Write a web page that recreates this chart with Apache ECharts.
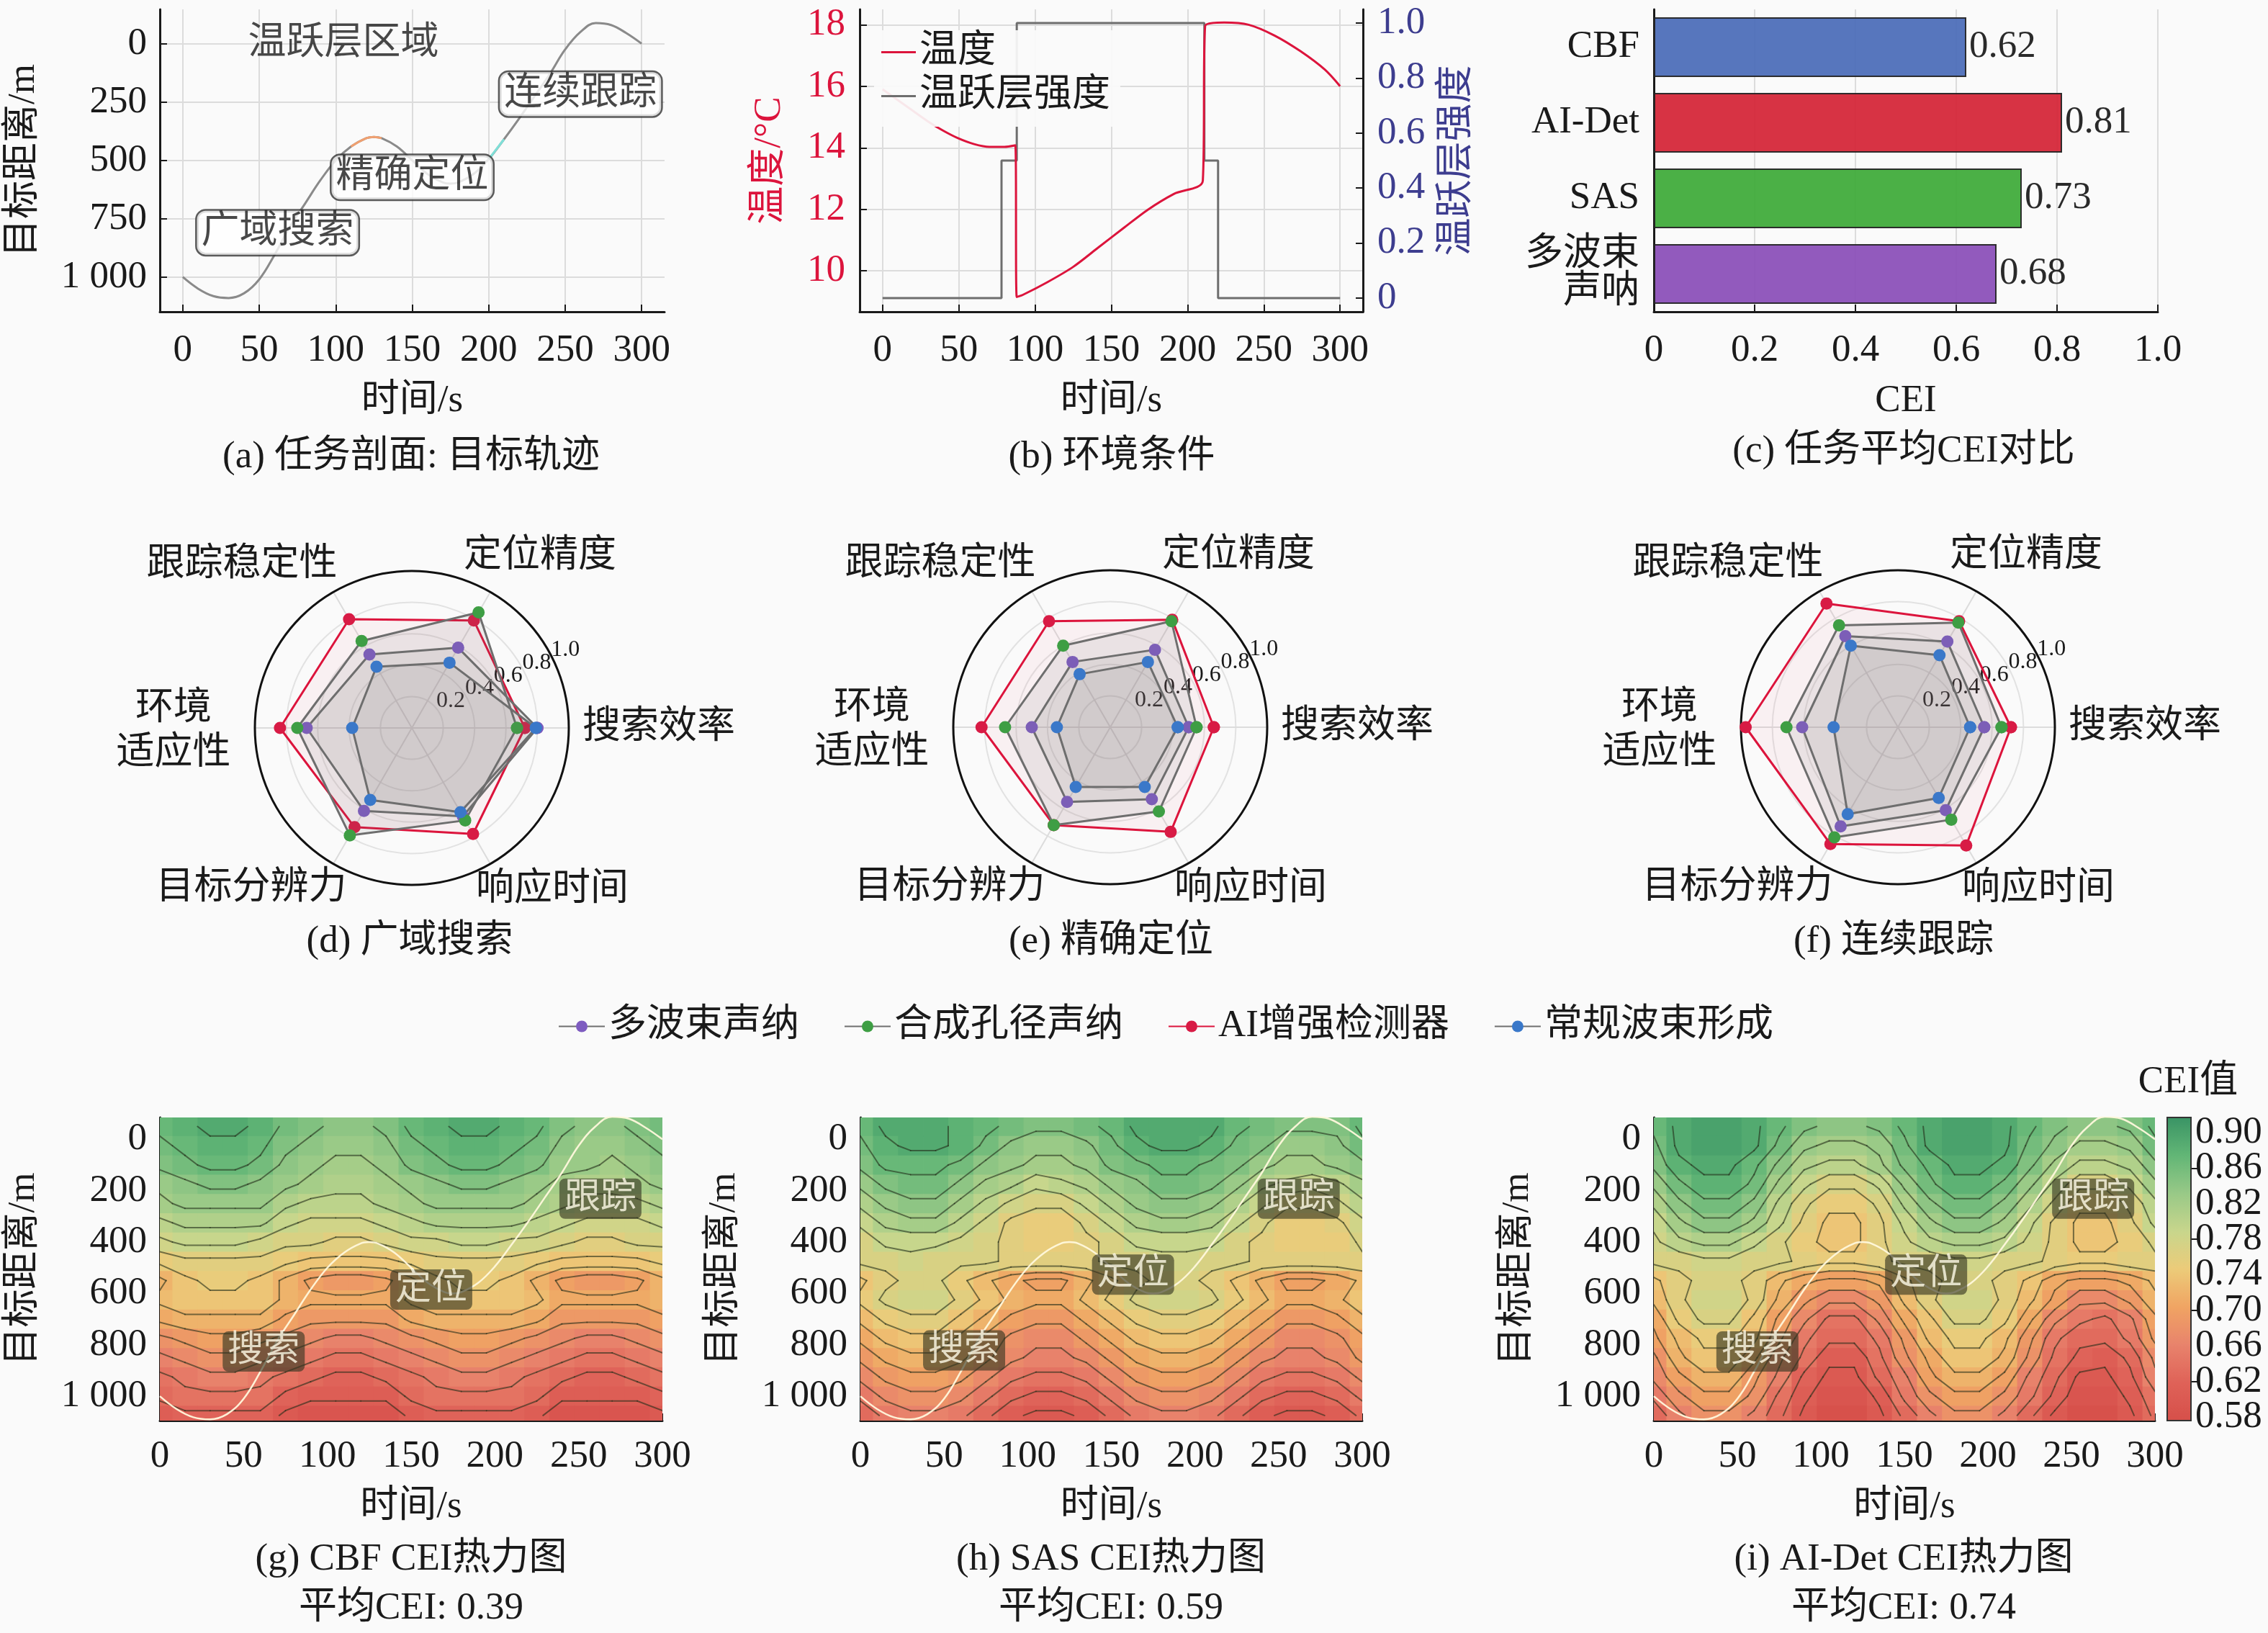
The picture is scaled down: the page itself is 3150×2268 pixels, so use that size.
<!DOCTYPE html>
<html>
<head>
<meta charset="utf-8">
<title>CEI 任务剖面</title>
<script src="https://cdn.jsdelivr.net/npm/echarts@6/dist/echarts.min.js"></script>
<style>
html, body { margin: 0; padding: 0; background: #fafafa; }
#main { width: 3150px; height: 2268px; }
</style>
</head>
<body>
<div id="main"></div>
<script>
// ---------------- data ----------------
// (a) target trajectory
const trajTime = [0, 10, 20, 30, 40, 50, 60, 70, 80, 90, 100, 110, 120, 125, 130, 140, 150, 160, 170, 175, 180, 190, 200, 210, 220, 230, 240, 250, 260, 270, 280, 290, 300];
const trajDepth = [1000, 1050, 1082, 1090, 1070, 1010, 905, 785, 685, 585, 500, 441, 405, 400, 405, 441, 500, 559, 595, 600, 595, 559, 495, 410, 320, 225, 130, 25, -50, -88, -80, -45, 0];
const phaseLabelsA = [[62, 810, '广域搜索'], [150, 573, '精确定位'], [260, 216, '连续跟踪']];

// (b) environment
const tempTime = [0, 10, 20, 30, 40, 50, 60, 70, 80, 87, 88, 92, 108, 125, 141, 158, 174, 191, 210, 211.5, 224, 240, 257, 274, 290, 300];
const tempValue = [15.9, 15.55, 15.2, 14.85, 14.55, 14.3, 14.12, 14.03, 14.03, 14.08, 9.15, 9.22, 9.63, 10.13, 10.74, 11.39, 11.99, 12.5, 12.93, 17.95, 18.07, 18.0, 17.65, 17.14, 16.54, 16.0];
const layerTime = [0, 78, 78, 88, 88, 211, 211, 220, 220, 300];
const layerValue = [0, 0, 0.5, 0.5, 1, 1, 0.5, 0.5, 0, 0];

// (c) mean CEI
const methodNames = ['CBF', 'AI-Det', 'SAS', '多波束\n声呐'];
const methodCEI = [0.62, 0.81, 0.73, 0.68];
const methodColors = ['#4a6cb8', '#d42336', '#3daa38', '#8a4db8'];

// (d)-(f) radar scores, axis order as below
const radarAxes = ['搜索效率', '定位精度', '跟踪稳定性', '环境\n适应性', '目标分辨力', '响应时间'];
const sonarNames = ['多波束声纳', '合成孔径声纳', 'AI增强检测器', '常规波束形成'];
const wideSearchScores = [
    [0.80, 0.59, 0.54, 0.67, 0.61, 0.65],
    [0.67, 0.85, 0.64, 0.73, 0.79, 0.68],
    [0.72, 0.79, 0.80, 0.84, 0.73, 0.78],
    [0.79, 0.48, 0.45, 0.38, 0.53, 0.62]
];
const preciseLocateScores = [
    [0.50, 0.57, 0.48, 0.50, 0.55, 0.53],
    [0.55, 0.78, 0.60, 0.67, 0.72, 0.62],
    [0.66, 0.79, 0.78, 0.82, 0.72, 0.77],
    [0.43, 0.48, 0.39, 0.34, 0.44, 0.44]
];
const trackingScores = [
    [0.55, 0.63, 0.67, 0.61, 0.73, 0.61],
    [0.66, 0.77, 0.75, 0.71, 0.81, 0.68],
    [0.72, 0.78, 0.91, 0.97, 0.86, 0.87],
    [0.46, 0.53, 0.60, 0.41, 0.64, 0.52]
];

// (g)-(i) CEI fields, in hundredths; rows = depth, columns = time
const gridTime = [0, 15, 30, 45, 60, 75, 90, 105, 120, 135, 150, 165, 180, 195, 210, 225, 240, 255, 270, 285, 300];
const gridDepth = [-50, 25, 100, 175, 250, 325, 400, 475, 550, 625, 700, 775, 850, 925, 1000, 1075];
const cbfGrid = [
    [87, 88, 89, 89, 88, 86, 85, 84, 84, 85, 87, 88, 89, 89, 88, 87, 85, 84, 84, 85, 86],
    [86, 87, 88, 88, 87, 85, 84, 83, 83, 84, 86, 87, 88, 88, 87, 86, 84, 83, 83, 84, 85],
    [85, 86, 87, 87, 86, 84, 83, 82, 82, 83, 85, 86, 87, 87, 86, 85, 83, 83, 82, 83, 84],
    [83, 84, 85, 85, 84, 83, 82, 81, 81, 82, 83, 84, 85, 85, 84, 83, 82, 81, 81, 82, 83],
    [82, 83, 83, 83, 83, 81, 80, 80, 80, 81, 82, 83, 83, 83, 83, 82, 81, 80, 80, 80, 81],
    [80, 81, 81, 81, 81, 79, 78, 78, 78, 79, 80, 81, 81, 81, 81, 80, 79, 78, 78, 78, 79],
    [78, 79, 79, 79, 78, 77, 77, 76, 76, 77, 78, 78, 79, 79, 78, 78, 77, 76, 76, 77, 77],
    [75, 76, 76, 76, 76, 75, 74, 74, 74, 74, 75, 76, 76, 76, 76, 75, 74, 74, 74, 74, 75],
    [72, 74, 75, 75, 74, 72, 70, 69, 69, 70, 72, 74, 75, 75, 74, 72, 70, 69, 69, 70, 72],
    [73, 74, 74, 74, 74, 72, 71, 71, 71, 71, 73, 74, 74, 74, 74, 73, 71, 71, 71, 71, 72],
    [71, 72, 72, 72, 72, 70, 69, 69, 69, 69, 71, 72, 72, 72, 72, 71, 69, 69, 69, 69, 70],
    [68, 69, 70, 70, 69, 68, 67, 66, 66, 67, 68, 69, 70, 70, 69, 68, 67, 66, 66, 67, 68],
    [66, 67, 68, 68, 67, 66, 65, 64, 64, 65, 66, 67, 68, 68, 67, 66, 65, 64, 64, 65, 66],
    [64, 65, 66, 66, 65, 64, 63, 62, 62, 63, 64, 65, 66, 66, 65, 64, 63, 62, 62, 63, 64],
    [63, 64, 64, 64, 64, 62, 61, 61, 61, 61, 63, 64, 64, 64, 64, 63, 61, 61, 61, 61, 62],
    [61, 62, 62, 62, 62, 60, 59, 59, 59, 59, 61, 62, 62, 62, 62, 61, 59, 59, 59, 59, 60]
];
const sasGrid = [
    [87, 89, 89, 89, 88, 87, 86, 85, 85, 86, 87, 89, 89, 89, 89, 87, 86, 85, 85, 85, 87],
    [86, 88, 89, 89, 88, 86, 84, 83, 83, 84, 86, 88, 89, 89, 88, 86, 85, 83, 83, 84, 86],
    [85, 87, 87, 87, 86, 84, 83, 82, 82, 83, 85, 86, 87, 87, 86, 85, 83, 82, 82, 83, 84],
    [83, 85, 86, 86, 84, 82, 81, 79, 80, 81, 83, 84, 86, 86, 85, 83, 81, 80, 79, 80, 82],
    [81, 83, 84, 84, 82, 80, 78, 77, 77, 79, 81, 83, 84, 84, 83, 81, 79, 77, 77, 78, 80],
    [79, 81, 82, 82, 80, 78, 76, 75, 75, 77, 79, 81, 82, 82, 81, 79, 77, 75, 75, 76, 78],
    [77, 79, 79, 79, 78, 77, 76, 75, 75, 76, 77, 79, 79, 79, 79, 77, 76, 75, 75, 75, 77],
    [77, 77, 78, 77, 77, 77, 76, 76, 76, 76, 77, 77, 78, 78, 77, 77, 76, 76, 76, 76, 76],
    [74, 76, 77, 77, 75, 73, 71, 70, 70, 72, 74, 76, 77, 77, 76, 74, 72, 70, 70, 71, 73],
    [75, 77, 78, 78, 76, 74, 72, 71, 71, 73, 75, 77, 78, 78, 77, 75, 73, 71, 71, 72, 74],
    [73, 75, 76, 76, 74, 72, 70, 69, 69, 71, 73, 75, 76, 76, 75, 73, 71, 69, 69, 70, 72],
    [71, 73, 74, 74, 72, 70, 68, 67, 67, 69, 71, 73, 74, 74, 73, 71, 69, 67, 67, 68, 70],
    [69, 71, 72, 72, 71, 69, 67, 66, 66, 67, 69, 71, 72, 72, 71, 69, 67, 66, 66, 67, 69],
    [67, 69, 70, 70, 69, 67, 65, 64, 64, 65, 67, 69, 70, 70, 69, 67, 65, 64, 64, 65, 67],
    [65, 67, 68, 68, 67, 65, 63, 62, 62, 63, 65, 67, 68, 68, 67, 65, 63, 62, 62, 63, 65],
    [63, 65, 66, 66, 65, 63, 61, 60, 60, 61, 63, 65, 66, 66, 65, 63, 61, 60, 60, 61, 63]
];
const aiGrid = [
    [87, 89, 90, 90, 89, 87, 85, 84, 84, 85, 87, 89, 90, 90, 89, 87, 85, 84, 84, 85, 87],
    [86, 89, 90, 90, 89, 86, 83, 82, 82, 83, 86, 89, 90, 90, 89, 86, 84, 82, 82, 83, 86],
    [85, 88, 89, 89, 87, 84, 81, 80, 80, 82, 85, 87, 89, 89, 88, 85, 82, 80, 80, 81, 84],
    [83, 86, 88, 88, 86, 82, 79, 77, 77, 79, 83, 86, 88, 88, 86, 83, 80, 77, 77, 79, 82],
    [81, 84, 86, 86, 84, 80, 77, 75, 75, 77, 81, 84, 86, 86, 84, 81, 78, 75, 75, 77, 80],
    [79, 82, 84, 84, 82, 79, 76, 74, 74, 76, 79, 82, 84, 84, 82, 79, 76, 74, 74, 76, 79],
    [78, 80, 81, 81, 79, 77, 75, 74, 74, 76, 78, 80, 81, 81, 80, 78, 76, 74, 74, 75, 77],
    [77, 77, 78, 78, 77, 77, 76, 75, 75, 76, 77, 77, 78, 78, 77, 77, 76, 75, 75, 76, 76],
    [74, 76, 77, 77, 76, 73, 71, 70, 70, 71, 74, 76, 77, 77, 76, 74, 71, 70, 70, 71, 73],
    [73, 76, 78, 78, 76, 72, 69, 67, 67, 69, 73, 76, 78, 78, 76, 73, 70, 67, 67, 69, 72],
    [71, 75, 77, 77, 74, 70, 67, 64, 64, 67, 71, 74, 77, 77, 75, 71, 67, 65, 64, 66, 70],
    [70, 73, 75, 75, 73, 69, 65, 63, 63, 65, 69, 73, 75, 75, 73, 69, 65, 63, 63, 65, 69],
    [68, 72, 74, 74, 71, 67, 64, 61, 61, 64, 68, 71, 74, 74, 72, 68, 64, 62, 61, 63, 67],
    [67, 70, 72, 72, 69, 66, 62, 60, 60, 63, 66, 70, 72, 72, 70, 66, 63, 60, 60, 62, 66],
    [65, 68, 70, 70, 68, 64, 61, 59, 59, 61, 65, 68, 70, 70, 68, 65, 62, 59, 59, 61, 64],
    [63, 66, 68, 68, 66, 63, 60, 58, 58, 60, 63, 66, 68, 68, 66, 63, 60, 58, 58, 60, 63]
];
const phaseLabelsG = [[62, 826, '搜索'], [162, 585, '定位'], [263, 231, '跟踪']];
const phaseLabelsH = [[62, 822, '搜索'], [163, 527, '定位'], [262, 231, '跟踪']];
const phaseLabelsI = [[62, 826, '搜索'], [163, 527, '定位'], [263, 231, '跟踪']];
const meanCEI = ['0.39', '0.59', '0.74'];
const thermoclineBand = [410, 650];
const contourLevels = [0.605, 0.625, 0.645, 0.665, 0.685, 0.705, 0.725, 0.745, 0.765, 0.785, 0.805, 0.825, 0.845, 0.865, 0.885];
const ceiTicksA = [0.58, 0.66, 0.74, 0.82, 0.90];
const ceiTicksB = [0.62, 0.70, 0.78, 0.86];
const ceiRange = [0.576, 0.917];
const ceiColors = ['#d64f4a', '#df6258', '#e8836c', '#f0a463', '#eccb79', '#c8d68c', '#98c987', '#62b676', '#3a9465'];

// ---------------- styling ----------------
const FONT = "'Liberation Serif', 'Noto Sans CJK SC', serif";
const FS = 53;
const INK = '#1a1a1a';
const GRIDC = '#dcdcdc';
const TEMPC = '#dc143c';
const LAYERC = '#3d3d8f';
const markerColors = ['#7e5cc0', '#3e9e44', '#d81b45', '#3a78c9'];

const merge = echarts.util.merge;
const depthFmt = v => (v === 1000 ? '1 000' : String(v));

const valueAxis = function (extra) {
    const base = {
        type: 'value',
        axisLine: {show: true, onZero: false, lineStyle: {color: INK, width: 3}},
        axisTick: {show: true, inside: true, length: 10, lineStyle: {color: INK, width: 2}},
        axisLabel: {color: INK, fontSize: FS, fontFamily: FONT, margin: 18},
        splitLine: {show: false, lineStyle: {color: GRIDC, width: 2}},
        nameLocation: 'middle',
        nameTextStyle: {color: INK, fontSize: FS, fontFamily: FONT}
    };
    return merge(base, extra, true);
};

const toPairs = (xs, ys) => xs.map((x, i) => [x, ys[i]]);

// marching squares on a grid of node values -> list of segments in data coords
const contourSegments = function (grid, level) {
    const segs = [];
    for (let i = 0; i < grid.length - 1; i++) {
        for (let j = 0; j < grid[i].length - 1; j++) {
            const a = grid[i][j], b = grid[i][j + 1], c = grid[i + 1][j + 1], d = grid[i + 1][j];
            const x0 = gridTime[j], x1 = gridTime[j + 1], y0 = gridDepth[i], y1 = gridDepth[i + 1];
            const cut = (v1, v2) => (level - v1) / (v2 - v1);
            const e = [
                (a - level) * (b - level) < 0 ? [x0 + cut(a, b) * (x1 - x0), y0] : null,
                (b - level) * (c - level) < 0 ? [x1, y0 + cut(b, c) * (y1 - y0)] : null,
                (d - level) * (c - level) < 0 ? [x0 + cut(d, c) * (x1 - x0), y1] : null,
                (a - level) * (d - level) < 0 ? [x0, y0 + cut(a, d) * (y1 - y0)] : null
            ];
            const hits = e.filter(Boolean);
            if (hits.length === 2) {
                segs.push(hits);
            } else if (hits.length === 4) {
                const centre = (a + b + c + d) / 4;
                if ((centre > level) === (a > level)) {
                    segs.push([e[0], e[1]], [e[2], e[3]]);
                } else {
                    segs.push([e[3], e[0]], [e[1], e[2]]);
                }
            }
        }
    }
    return segs;
};

// ---------------- layout ----------------
const grids = [
    {left: 222, top: 13, width: 701, height: 420},     // a
    {left: 1194, top: 13, width: 699, height: 420},    // b
    {left: 2297, top: 13, width: 700, height: 420},    // c
    {left: 222, top: 1552, width: 698, height: 421},   // g
    {left: 1195, top: 1552, width: 697, height: 421},  // h
    {left: 2297, top: 1552, width: 696, height: 421},  // i
    {left: 3010, top: 1552, width: 33, height: 421, show: true, borderColor: '#333', borderWidth: 2, backgroundColor: 'transparent', z: 5} // colour bar
];
const radarCentres = [[572, 1011], [1542, 1010], [2636, 1010]];
const radarRadius = 218;
const spokeStep = 360 / radarAxes.length;
// where the spoke names sit, relative to each web centre
const radarNameOffsets = [[343, 0], [178, -238], [-236, -226], [-331, 5], [-223, 223], [195, 225]];

const timeTicks = [0, 50, 100, 150, 200, 250, 300];
const timeAxisWide = {
    min: -15, max: 315,
    axisLabel: {customValues: timeTicks, margin: 28},
    axisTick: {customValues: timeTicks},
    splitLine: {show: true},
    name: '时间/s', nameGap: 98
};

const xAxes = [
    valueAxis(merge({gridIndex: 0}, timeAxisWide)),
    valueAxis(merge({gridIndex: 1}, timeAxisWide)),
    valueAxis({
        gridIndex: 2, min: 0, max: 1, interval: 0.2,
        axisLabel: {margin: 28, formatter: v => (v === 0 ? '0' : v.toFixed(1))},
        splitLine: {show: true},
        name: 'CEI', nameGap: 98
    })
];
[3, 4, 5].forEach(function (g) {
    xAxes.push(valueAxis({
        gridIndex: g, min: 0, max: 300, interval: 50,
        axisLabel: {margin: 24},
        name: '时间/s', nameGap: 94
    }));
});
xAxes.push({type: 'value', gridIndex: 6, min: 0, max: 1, show: false});

const depthTicksA = [0, 250, 500, 750, 1000];
const depthTicksH = [0, 200, 400, 600, 800, 1000];
const yAxes = [
    valueAxis({
        gridIndex: 0, inverse: true, min: -147, max: 1149,
        axisLabel: {customValues: depthTicksA, formatter: depthFmt},
        axisTick: {customValues: depthTicksA},
        splitLine: {show: true},
        name: '目标距离/m', nameGap: 162
    }),
    valueAxis({
        gridIndex: 1, min: 8.67, max: 18.5,
        axisLabel: {customValues: [10, 12, 14, 16, 18], color: TEMPC, margin: 20},
        axisTick: {customValues: [10, 12, 14, 16, 18]},
        splitLine: {show: true},
        name: '温度/°C', nameGap: 98, nameTextStyle: {color: TEMPC}
    }),
    valueAxis({
        gridIndex: 1, position: 'right', min: -0.05, max: 1.05,
        axisLabel: {customValues: [0, 0.2, 0.4, 0.6, 0.8, 1], color: LAYERC, margin: 20,
            formatter: v => (v === 0 ? '0' : v.toFixed(1))},
        axisTick: {customValues: [0, 0.2, 0.4, 0.6, 0.8, 1]},
        name: '温跃层强度', nameGap: 105, nameTextStyle: {color: LAYERC}
    }),
    {
        type: 'category', gridIndex: 2, data: methodNames, inverse: true,
        axisLine: {show: true, lineStyle: {color: INK, width: 3}},
        axisTick: {show: false},
        axisLabel: {color: INK, fontSize: FS, fontFamily: FONT, margin: 20, lineHeight: 52}
    }
];
[3, 4, 5].forEach(function (g) {
    yAxes.push(valueAxis({
        gridIndex: g, inverse: true, min: -85, max: 1095,
        axisLabel: {customValues: depthTicksH, formatter: depthFmt},
        axisTick: {customValues: depthTicksH},
        name: '目标距离/m', nameGap: 162
    }));
});
// colour bar ticks: split over two axes so neighbouring labels are never dropped
[ceiTicksA, ceiTicksB].forEach(function (ticks, n) {
    yAxes.push({
        type: 'value', gridIndex: 6, position: 'right', offset: 0, min: ceiRange[0], max: ceiRange[1],
        axisLine: {show: false},
        axisTick: {show: true, inside: false, length: 9, customValues: ticks, lineStyle: {color: INK, width: 2}},
        axisLabel: {show: true, customValues: ticks, formatter: v => v.toFixed(2), color: INK,
            fontSize: FS, fontFamily: FONT, margin: 6, showMinLabel: true, showMaxLabel: true},
        splitLine: {show: false},
        name: n === 0 ? 'CEI值' : '', nameLocation: 'end', nameGap: 22,
        nameTextStyle: {color: INK, fontSize: FS, fontFamily: FONT, padding: [0, 0, 0, 58]}
    });
});

// two polar systems per radar: one for the web, one only carrying the radial tick labels
const polars = [], angleAxes = [], radiusAxes = [];
radarCentres.forEach(function (c, k) {
    polars.push({center: c, radius: radarRadius}, {center: c, radius: radarRadius * 1.18});
    angleAxes.push({
        polarIndex: 2 * k, type: 'value', min: 0, max: 360, interval: spokeStep, startAngle: 0, clockwise: false,
        axisLine: {show: true, lineStyle: {color: '#111', width: 3}},
        axisTick: {show: false},
        axisLabel: {show: false},
        splitLine: {show: true, lineStyle: {color: GRIDC, width: 2}}
    }, {
        polarIndex: 2 * k + 1, type: 'value', min: 0, max: 360, startAngle: 24, show: false
    });
    radiusAxes.push({
        polarIndex: 2 * k, min: 0, max: 1, interval: 0.2,
        axisLine: {show: false}, axisTick: {show: false}, axisLabel: {show: false},
        splitLine: {show: true, lineStyle: {color: '#e2e2e2', width: 2}}
    }, {
        polarIndex: 2 * k + 1, min: -0.18, max: 1, axisLine: {show: false}, axisTick: {show: false}, splitLine: {show: false},
        axisLabel: {show: true, customValues: [0.2, 0.4, 0.6, 0.8, 1.0], color: INK, fontSize: 32, fontFamily: FONT, margin: 4,
            formatter: v => v.toFixed(1)}
    });
});

// ---------------- series ----------------
const series = [];
const hiddenDot = {color: 'rgba(0,0,0,0)'};

// (a)
series.push({
    type: 'line', xAxisIndex: 0, yAxisIndex: 0, data: toPairs(trajTime, trajDepth),
    smooth: 0.4, symbol: 'none', lineStyle: {color: '#8a8a8a', width: 3}, z: 3
});
series.push({
    type: 'line', xAxisIndex: 0, yAxisIndex: 0, smooth: 0.4, symbol: 'none',
    data: toPairs(trajTime, trajDepth).filter(p => p[0] >= 110 && p[0] <= 130),
    lineStyle: {color: '#f0a070', width: 3}, z: 4
});
series.push({
    type: 'line', xAxisIndex: 0, yAxisIndex: 0, symbol: 'none',
    data: toPairs(trajTime, trajDepth).filter(p => p[0] >= 200 && p[0] <= 210),
    lineStyle: {color: '#7fe0d8', width: 3}, z: 4
});
series.push({
    type: 'scatter', xAxisIndex: 0, yAxisIndex: 0, symbolSize: 2, itemStyle: hiddenDot,
    data: [[105, 0, '温跃层区域']], z: 5,
    label: {show: true, position: 'inside', formatter: p => p.data[2], color: INK, fontSize: FS, fontFamily: FONT}
});
series.push({
    type: 'scatter', xAxisIndex: 0, yAxisIndex: 0, symbolSize: 2, itemStyle: hiddenDot,
    data: phaseLabelsA, z: 6,
    label: {
        show: true, position: 'inside', formatter: p => p.data[2], color: INK, fontSize: FS, fontFamily: FONT,
        backgroundColor: '#ffffff', borderColor: '#333', borderWidth: 2.5, borderRadius: 12, padding: [6, 6, 2, 6]
    }
});

// (b)
series.push({
    name: '温度', type: 'line', xAxisIndex: 1, yAxisIndex: 1, data: toPairs(tempTime, tempValue),
    smooth: 0.3, symbol: 'none', lineStyle: {color: TEMPC, width: 3}, itemStyle: {color: TEMPC}, z: 3
});
series.push({
    name: '温跃层强度', type: 'line', xAxisIndex: 1, yAxisIndex: 2, data: toPairs(layerTime, layerValue),
    symbol: 'none', lineStyle: {color: '#6e6e6e', width: 3}, itemStyle: {color: '#6e6e6e'}, z: 2
});

// (c)
series.push({
    type: 'bar', xAxisIndex: 2, yAxisIndex: 3, barWidth: 83,
    data: methodCEI.map((v, i) => ({value: v, itemStyle: {color: methodColors[i]}})),
    itemStyle: {borderColor: '#222', borderWidth: 2, opacity: 0.93},
    label: {show: true, position: 'right', distance: 4, color: INK, fontSize: FS, fontFamily: FONT,
        formatter: p => p.value.toFixed(2)},
    z: 3
});

// (d)-(f) radar webs
[wideSearchScores, preciseLocateScores, trackingScores].forEach(function (scores, k) {
    scores.forEach(function (row, s) {
        const isAI = s === 2;
        const pts = row.map((v, i) => [v, i * spokeStep]);
        pts.push([row[0], 360]);
        series.push({
            name: sonarNames[s], type: 'line', coordinateSystem: 'polar', polarIndex: 2 * k,
            data: pts, symbol: 'circle', symbolSize: 17,
            itemStyle: {color: markerColors[s]},
            lineStyle: {color: isAI ? TEMPC : '#6e6e6e', width: 3},
            areaStyle: {color: isAI ? 'rgba(230,60,100,0.07)' : 'rgba(110,110,110,0.15)'},
            z: isAI ? 2 : 3 + s
        });
    });
});

// (g)-(i) heat maps
const heatPanels = [
    {grid: cbfGrid, labels: phaseLabelsG, xi: 3, yi: 4},
    {grid: sasGrid, labels: phaseLabelsH, xi: 4, yi: 5},
    {grid: aiGrid, labels: phaseLabelsI, xi: 5, yi: 6}
];
const cellSeriesIdx = [];
const halfW = (gridTime[1] - gridTime[0]) / 2;
const halfH = (gridDepth[1] - gridDepth[0]) / 2;
heatPanels.forEach(function (hp) {
    const cells = [];
    hp.grid.forEach((row, i) => row.forEach((v, j) => cells.push([gridTime[j], gridDepth[i], v / 100])));
    cellSeriesIdx.push(series.length);
    series.push({
        type: 'custom', xAxisIndex: hp.xi, yAxisIndex: hp.yi, clip: true, silent: true,
        encode: {x: 0, y: 1}, data: cells, z: 1,
        renderItem: function (params, api) {
            const t = api.value(0), d = api.value(1);
            const p0 = api.coord([t - halfW, d - halfH]);
            const p1 = api.coord([t + halfW, d + halfH]);
            return {
                type: 'rect',
                shape: {
                    x: Math.min(p0[0], p1[0]), y: Math.min(p0[1], p1[1]),
                    width: Math.abs(p1[0] - p0[0]) + 0.8, height: Math.abs(p1[1] - p0[1]) + 0.8
                },
                style: {fill: api.visual('color')}
            };
        }
    });

    const segsByLevel = contourLevels.map(L => contourSegments(hp.grid, L * 100));
    series.push({
        type: 'custom', xAxisIndex: hp.xi, yAxisIndex: hp.yi, clip: true, silent: true,
        encode: {x: 0, y: 1}, data: contourLevels.map((L, k) => [150, 500, k]), z: 2,
        renderItem: function (params, api) {
            const children = segsByLevel[params.dataIndex].map(function (s) {
                const a = api.coord(s[0]), b = api.coord(s[1]);
                return {
                    type: 'line', shape: {x1: a[0], y1: a[1], x2: b[0], y2: b[1]},
                    style: {stroke: 'rgba(35,45,25,0.6)', lineWidth: 2, lineCap: 'round'}
                };
            });
            return {type: 'group', children: children};
        }
    });

    series.push({
        type: 'line', xAxisIndex: hp.xi, yAxisIndex: hp.yi, data: toPairs(trajTime, trajDepth),
        smooth: 0.4, symbol: 'none', lineStyle: {color: '#fff8dc', width: 2.5, opacity: 0.95}, z: 4,
        markArea: {
            silent: true, itemStyle: {color: 'rgba(100,70,50,0.33)'},
            data: [[{yAxis: thermoclineBand[0]}, {yAxis: thermoclineBand[1]}]]
        }
    });
    series.push({
        type: 'scatter', xAxisIndex: hp.xi, yAxisIndex: hp.yi, symbolSize: 2, itemStyle: hiddenDot,
        data: hp.labels, z: 6,
        label: {
            show: true, position: 'inside', formatter: p => p.data[2], color: '#fffbe8',
            fontSize: 50, fontFamily: FONT, backgroundColor: 'rgba(55,55,35,0.8)',
            padding: [5, 7, 1, 7], borderRadius: 8
        }
    });
});

// ---------------- text placed on the page ----------------
const captions = [
    ['(a) 任务剖面: 目标轨迹', 571, 635],
    ['(b) 环境条件', 1544, 635],
    ['(c) 任务平均CEI对比', 2644, 627],
    ['(d) 广域搜索', 569, 1308],
    ['(e) 精确定位', 1543, 1308],
    ['(f) 连续跟踪', 2630, 1308],
    ['(g) CBF CEI热力图', 571, 2166],
    ['平均CEI: ' + meanCEI[0], 571, 2234],
    ['(h) SAS CEI热力图', 1543, 2166],
    ['平均CEI: ' + meanCEI[1], 1543, 2234],
    ['(i) AI-Det CEI热力图', 2644, 2166],
    ['平均CEI: ' + meanCEI[2], 2644, 2234]
];
const textItem = (text, x, y) => ({
    type: 'text', x: x, y: y, silent: true,
    style: {text: text, fill: INK, fontSize: FS, fontFamily: FONT, lineHeight: 62, align: 'center', verticalAlign: 'middle'}
});
const pageTexts = captions.map(c => textItem(c[0], c[1], c[2]));
radarCentres.forEach(function (c) {
    radarAxes.forEach(function (name, i) {
        pageTexts.push(textItem(name, c[0] + radarNameOffsets[i][0], c[1] + radarNameOffsets[i][1]));
    });
});

const option = {
    backgroundColor: '#fafafa',
    animation: false,
    textStyle: {fontFamily: FONT},
    grid: grids,
    xAxis: xAxes,
    yAxis: yAxes,
    polar: polars,
    angleAxis: angleAxes,
    radiusAxis: radiusAxes,
    legend: [{
        data: ['温度', '温跃层强度'], orient: 'vertical', left: 1214, top: 42, itemGap: 8,
        icon: 'rect', itemWidth: 48, itemHeight: 3, padding: [4, 14, 16, 10], z: 10,
        backgroundColor: 'rgba(250,250,250,0.92)',
        textStyle: {color: INK, fontSize: FS, fontFamily: FONT}
    }, {
        data: sonarNames, left: 770, top: 1394, itemGap: 62, itemWidth: 64, itemHeight: 20,
        textStyle: {color: INK, fontSize: FS, fontFamily: FONT}
    }],
    visualMap: [{
        type: 'continuous', min: ceiRange[0], max: ceiRange[1], dimension: 2,
        seriesIndex: cellSeriesIdx, inRange: {color: ceiColors},
        left: 3010, top: 1552, itemWidth: 33, itemHeight: 421, padding: 0,
        calculable: false, hoverLink: false, text: null, showLabel: false
    }],
    graphic: pageTexts,
    series: series
};

const chart = echarts.init(document.getElementById('main'), null, {renderer: 'canvas', width: 3150, height: 2268});
chart.setOption(option);
</script>
</body>
</html>
